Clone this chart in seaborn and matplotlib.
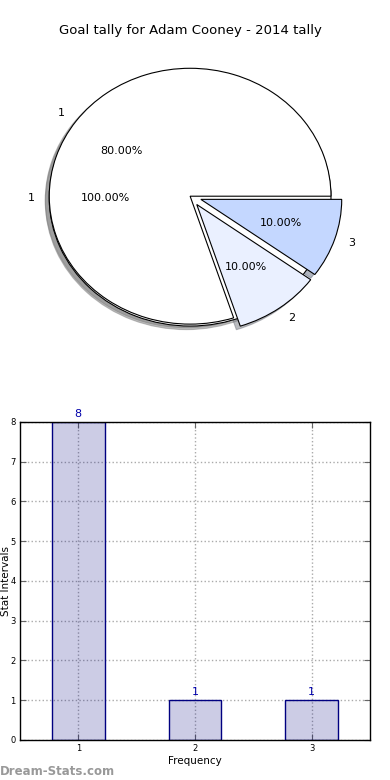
import matplotlib
matplotlib.use('Agg')
import matplotlib.pyplot as plt
import seaborn as sns
import pandas as pd

# data
title = 'Goal tally for Adam Cooney - 2014 tally'
total_labels = ['1']
total_values = [1]
pie_labels = ['1', '2', '3']
pie_values = [8, 1, 1]
pie_colors = ['white', '#eaf0ff', '#c4d7ff']
pie_explode = [0, 0.08, 0.08]

bar_labels = ['1', '2', '3']
bar_values = [8, 1, 1]

sns.set_style('white')
plt.rcParams['font.family'] = ['DejaVu Sans']
plt.rcParams['text.color'] = 'black'
plt.rcParams['axes.labelcolor'] = 'black'
plt.rcParams['xtick.color'] = 'black'
plt.rcParams['ytick.color'] = 'black'

fig = plt.figure(figsize=(3.9, 7.8), dpi=100)

# pie (two overlaid pies, as in the original)
ax1 = fig.add_axes([0.036, 0.541, 0.903, 0.410])
shadow = {'ox': -0.02, 'oy': -0.02, 'shade': 0.5}
ax1.pie(total_values, labels=total_labels, autopct='%.2f%%', shadow=shadow,
        colors=['white'], wedgeprops={'edgecolor': 'black', 'linewidth': 0.8},
        textprops={'fontsize': 8})
ax1.pie(pie_values, labels=pie_labels, autopct='%.2f%%', shadow=shadow,
        colors=pie_colors, explode=pie_explode, center=(0, 0.015),
        wedgeprops={'edgecolor': 'black', 'linewidth': 0.8},
        textprops={'fontsize': 8})
ax1.set_aspect('auto')
ax1.set_xlim(-1.25, 1.25)
ax1.set_ylim(-1.25, 1.25)
ax1.set_title(title, fontsize=9.5, pad=3)

# bar chart
ax2 = fig.add_axes([0.0513, 0.0513, 0.897, 0.4077])
df = pd.DataFrame({'freq': bar_labels, 'count': bar_values})
sns.barplot(data=df, x='freq', y='count', ax=ax2, width=0.45,
            color=(0, 0, 0.5, 0.2), edgecolor='navy', linewidth=1, saturation=1)
for p, v in zip(ax2.patches, bar_values):
    p.set_facecolor((0, 0, 0.5, 0.2))
    ax2.text(p.get_x() + p.get_width() / 2, v + 0.08, str(v), ha='center',
             va='bottom', color='#0000aa', fontsize=8)
ax2.set_xlim(-0.5, 2.5)
ax2.set_ylim(0, 8)
ax2.set_yticks(range(0, 9))
ax2.grid(True, linestyle=':', color='#aaaaaa', linewidth=1)
ax2.set_axisbelow(True)
for s in ax2.spines.values():
    s.set_visible(True)
    s.set_color('black')
    s.set_linewidth(1)
ax2.tick_params(direction='in', length=4, labelsize=6, top=True, right=True,
                bottom=True, left=True, color='#666666', pad=3)
ax2.set_xlabel('Frequency', fontsize=7.5, labelpad=2)
ax2.set_ylabel('Stat Intervals', fontsize=7.5)
ax2.yaxis.set_label_coords(-0.027, 0.5)

fig.text(0.0, 0.003, 'Dream-Stats.com', fontsize=8.5, color='#999999',
         fontweight='bold', ha='left', va='bottom')

fig.savefig('out.png', dpi=100)
